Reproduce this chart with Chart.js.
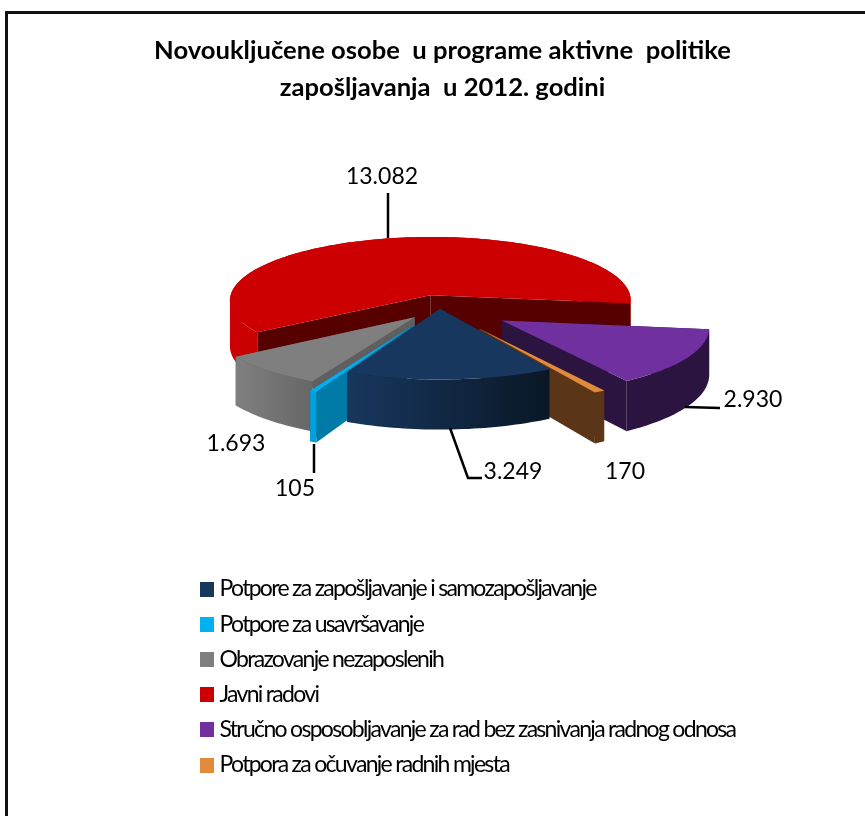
<!doctype html>
<html>
<head>
	<meta charset="utf-8">
	<title>Novouključene osobe</title>
	<style>
		html, body { margin: 0; padding: 0; background: #fff; overflow: hidden; }
		#frame { position: absolute; left: 5px; top: 11px; width: 870px; height: 820px; border: 3px solid #111; }
		#chart-area { position: absolute; left: 0; top: 0; }
	</style>
</head>
<body>
	<div id="frame"></div>
	<canvas id="chart-area" width="865" height="816"></canvas>
	<script src="https://cdn.jsdelivr.net/npm/chart.js@4"></script>
	<script>
	var titleLines = ["Novouključene osobe  u programe aktivne  politike", "zapošljavanja  u 2012. godini"];
	var categories = [
		"Potpore za zapošljavanje i samozapošljavanje",
		"Potpore za usavršavanje",
		"Obrazovanje nezaposlenih",
		"Javni radovi",
		"Stručno osposobljavanje za rad bez zasnivanja radnog odnosa",
		"Potpora za očuvanje radnih mjesta"
	];
	var values = [3249, 105, 1693, 13082, 2930, 170];

	// styles, same order as categories
	var topColors = ["#17375e", "#00b0f0", "#7f7f7f", "#cc0000", "#7030a0", "#e08a3c"];
	var rimLeft = ["#17375e", "#00a0dc", "#808080", "#cc0000", "#2c1440", "#5a3518"];
	var rimRight = ["#0a1726", "#00a0dc", "#666666", "#c00000", "#2c1440", "#5a3518"];
	var sideColors = ["#0f2440", "#007aa6", "#5f5f5f", "#560000", "#2c1440", "#5a3518"];
	var explode = [2, 59, 38, 42, 72, 74];
	var paintOrder = [3, 4, 2, 5, 1, 0];

	// label placement, same order as categories
	var labelAt = [[513, 472], [295, 489], [236, 444], [382, 177], [753, 400], [625, 472]];
	var leaders = [
		[[450, 428], [468, 478], [482, 478]],
		[[314, 444], [314, 473]],
		null,
		[[388, 193], [388, 238]],
		[[685, 407], [720, 408]],
		null
	];

	// view of the pie
	var view = { cx: 440, cy: 308, tilt: 0.32, dist: 2500, depth: 46 };

	function project(u, v, z) {
		var s = view.dist / (view.dist - v);
		return [view.cx + u * s, view.cy + (v * view.tilt + z) * s];
	}

	function addPoly(ctx, pts) {
		pts.forEach(function(p, i) {
			if (i === 0) ctx.moveTo(p[0], p[1]); else ctx.lineTo(p[0], p[1]);
		});
		ctx.closePath();
	}

	function trace(ctx, pts) {
		ctx.beginPath();
		addPoly(ctx, pts);
	}

	function area(pts) {
		var sum = 0;
		pts.forEach(function(p, i) {
			var q = pts[(i + 1) % pts.length];
			sum += p[0] * q[1] - q[0] * p[1];
		});
		return sum;
	}

	function drawSlice(ctx, arc, i) {
		var p = arc.getProps(["startAngle", "endAngle", "outerRadius"], true);
		var mid = (p.startAngle + p.endAngle) / 2;
		var ox = Math.cos(mid) * explode[i];
		var oy = Math.sin(mid) * explode[i];
		var steps = Math.max(2, Math.ceil((p.endAngle - p.startAngle) * 40));
		var rim = [];
		for (var k = 0; k <= steps; k++) {
			var a = p.startAngle + (p.endAngle - p.startAngle) * k / steps;
			rim.push([ox + Math.cos(a) * p.outerRadius, oy + Math.sin(a) * p.outerRadius]);
		}
		var rimTop = rim.map(function(q) { return project(q[0], q[1], 0); });
		var rimBottom = rim.map(function(q) { return project(q[0], q[1], view.depth); });
		var apexTop = project(ox, oy, 0);
		var apexBottom = project(ox, oy, view.depth);

		function radialWalls() {
			ctx.fillStyle = sideColors[i];
			trace(ctx, [apexTop, rimTop[0], rimBottom[0], apexBottom]);
			ctx.fill();
			trace(ctx, [apexTop, rimTop[steps], rimBottom[steps], apexBottom]);
			ctx.fill();
		}

		function outerWall() {
			var xs = rimTop.map(function(q) { return q[0]; });
			var grad = ctx.createLinearGradient(Math.min.apply(null, xs), 0, Math.max.apply(null, xs), 0);
			grad.addColorStop(0, rimLeft[i]);
			grad.addColorStop(1, rimRight[i]);
			ctx.fillStyle = grad;
			// one path, every quad wound the same way, so the band has no seams or holes
			ctx.beginPath();
			for (var k = 0; k < steps; k++) {
				var quad = [rimTop[k], rimTop[k + 1], rimBottom[k + 1], rimBottom[k]];
				addPoly(ctx, area(quad) < 0 ? quad.reverse() : quad);
			}
			ctx.fill();
		}

		// the big slice shows its radial walls in front of the rim
		if (p.endAngle - p.startAngle > Math.PI) {
			outerWall();
			radialWalls();
		} else {
			radialWalls();
			outerWall();
		}

		ctx.fillStyle = topColors[i];
		trace(ctx, [apexTop].concat(rimTop));
		ctx.fill();
	}

	function swatch(color) {
		var c = document.createElement("canvas");
		c.width = 14;
		c.height = 15;
		var g = c.getContext("2d");
		g.fillStyle = color;
		g.fillRect(0, 0, 14, 15);
		return c;
	}

	var pie3d = {
		id: "pie3d",
		afterLayout: function(chart) {
			var legend = chart.legend;
			legend.left = 193.8;
			legend.right = 760;
			legend.top = 565.3;
			legend.bottom = 816;
			if (!legend.squeezed) {
				var drawLegend = legend.draw;
				legend.draw = function() {
					chart.ctx.save();
					chart.ctx.letterSpacing = "-1.7px";
					drawLegend.call(legend);
					chart.ctx.restore();
				};
				legend.squeezed = true;
			}
		},
		beforeDatasetsDraw: function(chart) {
			var arcs = chart.getDatasetMeta(0).data;
			paintOrder.forEach(function(i) {
				drawSlice(chart.ctx, arcs[i], i);
			});
			return false;
		},
		afterDraw: function(chart) {
			var ctx = chart.ctx;
			ctx.save();
			ctx.strokeStyle = "#000";
			ctx.lineWidth = 2.5;
			leaders.forEach(function(line) {
				if (!line) return;
				ctx.beginPath();
				line.forEach(function(q, k) {
					if (k === 0) ctx.moveTo(q[0], q[1]); else ctx.lineTo(q[0], q[1]);
				});
				ctx.stroke();
			});
			ctx.fillStyle = "#000";
			ctx.font = "23px Lato";
			ctx.textAlign = "center";
			ctx.textBaseline = "middle";
			values.forEach(function(v, i) {
				var text = String(v).replace(/\B(?=(\d{3})+$)/g, ".");
				ctx.fillText(text, labelAt[i][0], labelAt[i][1]);
			});
			ctx.restore();
		}
	};

	var config = {
		type: "pie",
		data: {
			labels: categories,
			datasets: [{
				data: values,
				backgroundColor: topColors,
				borderWidth: 0
			}]
		},
		options: {
			responsive: false,
			animation: false,
			rotation: 150,
			radius: 203,
			layout: { padding: { left: 20 } },
			plugins: {
				tooltip: { enabled: false },
				title: {
					display: true,
					text: titleLines,
					color: "#000",
					font: { family: "Lato", size: 25.6, weight: "bold", lineHeight: 1.44 },
					padding: { top: 32, bottom: 10 }
				},
				legend: {
					position: "chartArea",
					align: "start",
					labels: {
						usePointStyle: true,
						boxWidth: 2,
						boxHeight: 14,
						padding: 12.2,
						color: "#000",
						font: { family: "Lato", size: 23 },
						generateLabels: function() {
							return categories.map(function(name, i) {
								return { text: name, pointStyle: swatch(topColors[i]), fillStyle: topColors[i], lineWidth: 0, index: i };
							});
						}
					}
				}
			}
		},
		plugins: [pie3d]
	};
	window.onload = function() {
		var ctx = document.getElementById("chart-area").getContext("2d");
		window.myPie = new Chart(ctx, config);
	};
	</script>
</body>
</html>
